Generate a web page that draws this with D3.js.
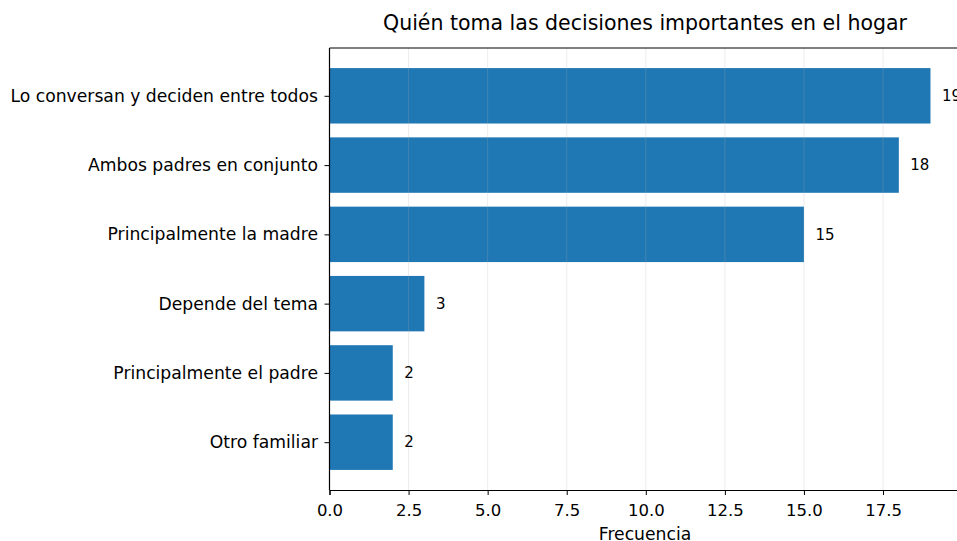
<!DOCTYPE html>
<html>
<head>
<meta charset="utf-8">
<script src="https://cdn.jsdelivr.net/npm/d3@7"></script>
<style>
  body { margin: 0; background: #fff; }
  svg { font-family: "DejaVu Sans", sans-serif; }
</style>
</head>
<body>
<svg id="fig" width="957" height="541"></svg>
<script>
const categories = [
    "Lo conversan y deciden entre todos",
    "Ambos padres en conjunto",
    "Principalmente la madre",
    "Depende del tema",
    "Principalmente el padre",
    "Otro familiar"
];
const counts = [19, 18, 15, 3, 2, 2];
const xTicks = [0, 2.5, 5, 7.5, 10, 12.5, 15, 17.5];

const svg = d3.select("#fig");

// plot area
const plotLeft = 329.5, plotTop = 48, plotBottom = 490;
const xMax = d3.max(counts) * 1.05;
const x = d3.scaleLinear().domain([0, xMax]).range([plotLeft, plotLeft + xMax * 31.63]);
const n = categories.length;
const pad = 0.4 + 0.05 * (n - 1 + 0.8);
const y = d3.scaleLinear().domain([-pad, n - 1 + pad]).range([plotTop, plotBottom]);
const barH = y(0.8) - y(0);

// bars
svg.append("g").selectAll("rect")
    .data(counts)
    .join("rect")
    .attr("x", x(0))
    .attr("y", (d, i) => y(i) - barH / 2)
    .attr("width", d => x(d) - x(0))
    .attr("height", barH)
    .attr("fill", "#1f77b4");

// grid on top of bars
svg.append("g").selectAll("line")
    .data(xTicks)
    .join("line")
    .attr("x1", d => x(d)).attr("x2", d => x(d))
    .attr("y1", plotTop).attr("y2", plotBottom)
    .attr("stroke", "#b0b0b0")
    .attr("stroke-opacity", 0.3)
    .attr("stroke-width", 0.8);

// value labels
svg.append("g").selectAll("text")
    .data(counts)
    .join("text")
    .attr("x", d => x(d) + 11.5)
    .attr("y", (d, i) => y(i))
    .attr("dy", "0.35em")
    .attr("font-size", 15)
    .attr("fill", "#000")
    .text(d => d);

// axes
const xAxis = svg.append("g")
    .attr("transform", `translate(0,${plotBottom})`)
    .call(d3.axisBottom(x).tickValues(xTicks).tickFormat(d3.format(".1f")).tickSizeOuter(0).tickSize(5).tickPadding(9));
xAxis.selectAll("text").attr("font-size", 16.5).attr("fill", "#000").attr("font-family", "DejaVu Sans");
xAxis.select(".domain").attr("stroke", "#000").attr("stroke-width", 1.2);

const yAxis = svg.append("g")
    .attr("transform", `translate(${plotLeft},0)`)
    .call(d3.axisLeft(y).tickValues(d3.range(n)).tickFormat(i => categories[i]).tickSizeOuter(0).tickSize(5).tickPadding(6.5));
yAxis.select(".domain").remove();
yAxis.selectAll("text").attr("font-size", 17.2).attr("fill", "#000").attr("font-family", "DejaVu Sans");

// spines
svg.append("line").attr("x1", plotLeft).attr("x2", plotLeft).attr("y1", plotTop).attr("y2", plotBottom)
    .attr("stroke", "#000").attr("stroke-width", 1.2);
svg.append("line").attr("x1", plotLeft).attr("x2", x(xMax)).attr("y1", plotTop).attr("y2", plotTop)
    .attr("stroke", "#000").attr("stroke-width", 1.2);
svg.append("line").attr("x1", x(xMax)).attr("x2", x(xMax)).attr("y1", plotTop).attr("y2", plotBottom)
    .attr("stroke", "#000").attr("stroke-width", 1.2);

// titles
svg.append("text")
    .attr("x", (plotLeft + x(xMax)) / 2).attr("y", 30)
    .attr("text-anchor", "middle")
    .attr("font-size", 20.5)
    .text("Quién toma las decisiones importantes en el hogar");

svg.append("text")
    .attr("x", (plotLeft + x(xMax)) / 2).attr("y", 539.5)
    .attr("text-anchor", "middle")
    .attr("font-size", 17.2)
    .text("Frecuencia");
</script>
</body>
</html>
